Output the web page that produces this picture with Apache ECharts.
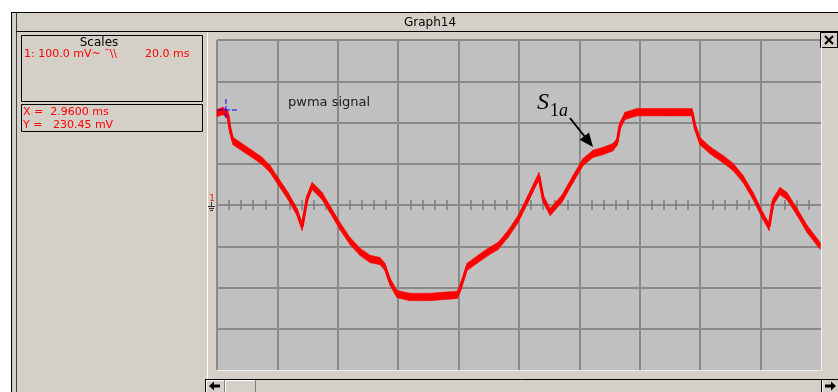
<!DOCTYPE html>
<html><head><meta charset="utf-8">
<script src="https://cdn.jsdelivr.net/npm/echarts@6.0.0/dist/echarts.min.js"></script>
<style>html,body{margin:0;padding:0;background:#fff}#c{width:838px;height:392px}</style>
</head><body><div id="c"></div>
<script>
// ---- data (time in ms, signal in mV) ----
const timeMs = [0,2.0,3.6,4.3,5.3,8.3,11.6,14.9,17.6,20.2,23.5,26.5,28.2,29.8,31.5,34.8,37.4,40.7,44.0,47.4,50.7,54.0,55.6,57.3,59.6,63.9,70.5,75.5,79.5,80.5,82.8,86.4,89.7,93.1,96.4,99.7,103.0,106.6,108.0,110.3,114.2,117.9,121.2,124.5,127.8,131.1,132.5,133.4,135.1,139.1,146.7,157.3,158.3,159.9,163.2,167.6,170.9,174.2,177.5,180.8,182.8,184.1,186.4,188.7,192.1,195.4,199.7];
const signalMv = [223,228,218,184,155,140,124,107,87,58,22,-17,-53,15,46,22,-10,-51,-87,-114,-131,-136,-150,-186,-216,-223,-223,-220,-218,-203,-150,-131,-114,-99,-70,-34,15,70,15,-17,15,63,104,124,131,140,153,191,216,225,225,225,189,155,133,111,92,63,22,-27,-53,7,34,22,-17,-58,-99];
const xMin = 0, xMax = 200, xStep = 20;      // 20.0 ms / div
const yMin = -400, yMax = 400, yStep = 100;  // 100.0 mV / div
const cursorX = 2.96, cursorY = 230.45;
const graphTitle = 'Graph14';
const signalLabel = 'pwma signal';
const scaleLine = '1: 100.0 mV~ \u00AF\\\\';
const timeScale = '20.0 ms';
const cursorXText = 'X =  2.9600 ms';
const cursorYText = 'Y =   230.45 mV';

const bandHalf = 9; // half of the noise band, mV
const lineData = timeMs.map((t, i) => [t, signalMv[i]]);

const chart = echarts.init(document.getElementById('c'), null, {renderer: 'canvas', width: 838, height: 392});

const G = [];
const rect = (x, y, w, h, fill, stroke, lw, z) => G.push({type: 'rect', shape: {x, y, width: w, height: h}, style: {fill: fill || 'none', stroke: stroke || null, lineWidth: lw || 1}, silent: true, z: z || 1});
const line = (x1, y1, x2, y2, stroke, lw, z) => G.push({type: 'line', shape: {x1, y1, x2, y2}, style: {stroke, lineWidth: lw || 1}, silent: true, z: z || 2});
const text = (x, y, t, font, fill, align, z) => G.push({type: 'text', x, y, style: {text: t, font, fill, align: align || 'left', verticalAlign: 'middle'}, silent: true, z: z || 50});
const poly = (pts, fill, z) => G.push({type: 'polygon', shape: {points: pts}, style: {fill}, silent: true, z: z || 60});

// window frame
rect(0, 0, 838, 12, '#ffffff');
rect(0, 0, 11, 392, '#ffffff');
line(11, 12.5, 838, 12.5, '#000');
line(11.5, 12, 11.5, 392, '#000');
line(16.5, 13, 16.5, 392, '#404040');
line(16, 31.5, 838, 31.5, '#000');
text(430, 23, graphTitle, '12px "DejaVu Sans"', '#000', 'center');
// left info boxes
rect(21.5, 35.5, 181, 66, null, '#000');
rect(21.5, 104.5, 181, 27, null, '#000');
text(99, 43, 'Scales', '12px "DejaVu Sans"', '#000', 'center');
text(24, 54.5, scaleLine, '11px "DejaVu Sans"', '#ff0000');
text(145, 54.5, timeScale, '11px "DejaVu Sans"', '#ff0000');
text(23, 112, cursorXText, '11px "DejaVu Sans"', '#ff0000');
text(23, 125.5, cursorYText, '11px "DejaVu Sans"', '#ff0000');
// plot panel edges
line(207.5, 32, 207.5, 379, '#ffffff');
line(821.5, 40, 821.5, 371, '#eeeeee');
line(217, 370.5, 822, 370.5, '#eeeeee');
// close button
rect(820.5, 32.5, 17, 15, '#d4d0c8', '#000');
line(825, 36, 833, 44, '#000', 2, 3);
line(833, 36, 825, 44, '#000', 2, 3);
// scrollbar
line(205, 379.5, 838, 379.5, '#000');
line(205.5, 379, 205.5, 392, '#000');
line(821.5, 379, 821.5, 392, '#000');
rect(206, 380, 18, 12, '#d4d0c8');
line(206, 380.5, 224, 380.5, '#ffffff');
line(206.5, 380, 206.5, 392, '#ffffff');
line(224.5, 380, 224.5, 392, '#808080');
rect(225, 380, 30, 12, '#d4d0c8');
line(225, 380.5, 255, 380.5, '#ffffff');
line(225.5, 380, 225.5, 392, '#ffffff');
line(255.5, 380, 255.5, 392, '#808080');
line(822.5, 380, 822.5, 392, '#ffffff');
poly([[209, 386], [214, 381.5], [214, 384.5], [220, 384.5], [220, 387.5], [214, 387.5], [214, 390.5]], '#000');
poly([[836, 386], [831, 381.5], [831, 384.5], [825, 384.5], [825, 387.5], [831, 387.5], [831, 390.5]], '#000');
// channel 1 ground marker
text(212, 199, '1', '8px "DejaVu Sans"', '#ff0000', 'center');
line(211.5, 202, 211.5, 206, '#303030', 1, 60);
line(208, 206.5, 215, 206.5, '#303030', 1, 60);
line(209, 208.5, 214, 208.5, '#303030', 1, 60);
line(210, 210.5, 213, 210.5, '#303030', 1, 60);
// annotations
text(288, 103, signalLabel, '13px "DejaVu Sans"', '#202020', 'left', 60);
text(537, 102.5, 'S', 'italic 24px "Liberation Serif"', '#000', 'left', 60);
text(550, 111, '1', '18px "Liberation Serif"', '#000', 'left', 60);
text(559, 111, 'a', 'italic 18px "Liberation Serif"', '#000', 'left', 60);
line(570, 118, 585, 137, '#000', 2, 60);
poly([[593, 147], [579.6, 139.8], [589, 132.4]], '#000', 60);

const splitStyle = {color: '#8a8a8a', width: 2};
const tickAxis = (pos) => ({
  type: 'value', min: xMin, max: xMax, interval: xStep, position: pos,
  axisLine: {show: false, onZero: true, onZeroAxisIndex: 0},
  axisTick: {show: false}, axisLabel: {show: false}, splitLine: {show: false},
  minorTick: {show: true, splitNumber: 5, length: 5, lineStyle: {color: '#7c7c7c', width: 1.5}}
});

chart.setOption({
  backgroundColor: '#d4d0c8',
  animation: false,
  grid: {left: 217, top: 40, width: 604, height: 330, show: true, backgroundColor: '#c0c0c0', borderWidth: 0, containLabel: false},
  xAxis: [
    {type: 'value', min: xMin, max: xMax, interval: xStep, position: 'bottom',
     axisLine: {show: false, onZero: false}, axisTick: {show: false}, axisLabel: {show: false},
     splitLine: {show: true, showMaxLine: false, lineStyle: splitStyle}},
    tickAxis('bottom'),
    tickAxis('top')
  ],
  yAxis: {type: 'value', min: yMin, max: yMax, interval: yStep,
    axisLine: {show: false}, axisTick: {show: false}, axisLabel: {show: false},
    splitLine: {show: true, showMinLine: false, lineStyle: splitStyle}},
  graphic: {elements: G},
  series: [
    // noise band of the trace: one quad per segment, built from the data through the axes
    {type: 'custom', data: lineData, silent: true, z: 5,
     renderItem: (params, api) => {
       const i = params.dataIndex;
       if (i >= lineData.length - 1) return null;
       const a = lineData[i], b = lineData[i + 1];
       const pts = [
         api.coord([a[0], a[1] + bandHalf]), api.coord([b[0], b[1] + bandHalf]),
         api.coord([b[0], b[1] - bandHalf]), api.coord([a[0], a[1] - bandHalf])
       ];
       return {type: 'polygon', shape: {points: pts}, style: {fill: '#ff0000', stroke: '#ff0000', lineWidth: 0.5}};
     }},
    {type: 'line', data: lineData, symbol: 'none', silent: true,
     lineStyle: {color: '#ff0000', width: 3}, z: 6},
    {type: 'custom', data: [[cursorX, cursorY]], silent: true, z: 8,
     renderItem: (params, api) => {
       const p = api.coord([api.value(0), api.value(1)]);
       return {type: 'group', children: [
         {type: 'line', shape: {x1: p[0] - 8, y1: p[1], x2: p[0] + 13, y2: p[1]}, style: {stroke: '#0000ff', lineWidth: 1, lineDash: [5, 2]}},
         {type: 'line', shape: {x1: p[0], y1: p[1] - 11, x2: p[0], y2: p[1] + 10}, style: {stroke: '#0000ff', lineWidth: 1, lineDash: [5, 2]}}
       ]};
     }}
  ]
});
</script>
</body></html>
